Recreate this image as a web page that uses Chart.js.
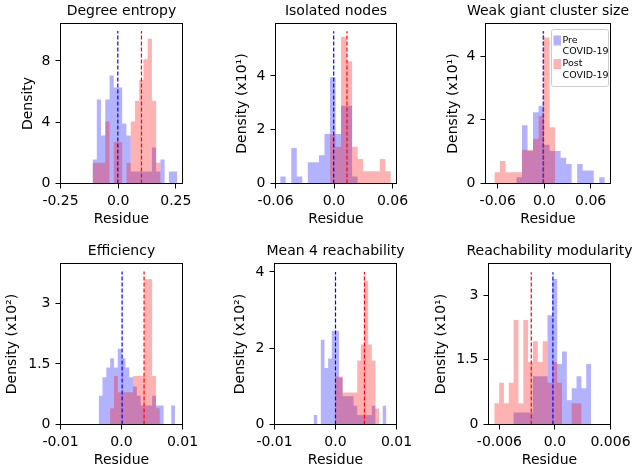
<!DOCTYPE html>
<html>
<head>
<meta charset="utf-8">
<script src="https://cdn.jsdelivr.net/npm/chart.js@4.4.1/dist/chart.umd.min.js"></script>
<style>
  body { margin: 0; background: #fff; }
  #wrap { position: relative; width: 635px; height: 475px; }
  canvas { position: absolute; left: 0; top: 0; }
</style>
</head>
<body>
<div id="wrap">
  <canvas id="c0" width="635" height="475"></canvas>
  <canvas id="c1" width="635" height="475"></canvas>
  <canvas id="c2" width="635" height="475"></canvas>
  <canvas id="c3" width="635" height="475"></canvas>
  <canvas id="c4" width="635" height="475"></canvas>
  <canvas id="c5" width="635" height="475"></canvas>
</div>
<script>
'use strict';
const titles = ['Degree entropy', 'Isolated nodes', 'Weak giant cluster size',
  'Efficiency', 'Mean 4 reachability', 'Reachability modularity'];
const yLabels = ['Density', 'Density (x10¹)', 'Density (x10¹)',
  'Density (x10²)', 'Density (x10²)', 'Density (x10¹)'];
const seriesNames = ['Pre COVID-19', 'Post COVID-19'];

// histogram bins: first edge and bin width of each panel
const binStart = [-0.111, -0.0552, -0.0643, -0.00374, -0.0036, -0.00656];
const binWidth = [0.01838, 0.005675, 0.00713, 0.000626, 0.000597, 0.000523];

// densities per bin (as shown on the axis)
const degPre = [1.57, 5.48, 3.13, 5.48, 7.05, 6.26, 6.26, 3.92, 3.13, 0.78, 0.78, 0.78, 0.78, 0.78, 2.35, 0.78, 1.57, 0, 0.78, 0.78];
const degPost = [1.35, 1.35, 1.35, 4.05, 0, 2.7, 2.7, 0, 1.35, 4.05, 5.4, 6.75, 8.1, 9.45, 5.4, 1.35, 0, 0, 0, 0];
const isoPre = [0.26, 0, 1.32, 0.26, 0, 0.79, 0.79, 1.05, 1.84, 3.95, 1.84, 2.89, 2.89, 0.26, 0, 0, 0, 0, 0, 0];
const isoPost = [0, 0, 0, 0, 0, 0, 0, 0, 0, 1.82, 1.37, 5.46, 4.55, 1.37, 0.91, 0.46, 0.46, 0.46, 0.91, 0.46];
const wgcPre = [0, 0, 0, 0, 0.2, 1.83, 1.02, 2.24, 2.44, 1.22, 1.02, 1.02, 0.81, 0.61, 0, 0.61, 0.41, 0.41, 0, 0.2];
const wgcPost = [0.35, 0.71, 0.35, 0.35, 0.35, 1.06, 1.06, 1.41, 2.12, 4.59, 1.77, 0, 0, 0, 0, 0, 0, 0, 0, 0];
const effPre = [0.71, 1.17, 1.41, 1.64, 1.41, 1.88, 1.64, 1.41, 1.17, 0.94, 0.71, 0.47, 0.47, 0.47, 0.71, 0.47, 0.47, 0, 0, 0.47];
const effPost = [0, 0, 0, 0.4, 1.2, 0.8, 0.8, 0.8, 0.8, 1.2, 1.2, 1.2, 3.6, 3.6, 1.2, 0.4, 0, 0, 0, 0];
const m4rPre = [0.25, 0, 2.22, 1.48, 1.73, 2.46, 2.46, 1.23, 0.74, 0.74, 0.74, 0.49, 0.25, 0.25, 0.25, 0.25, 0.49, 0, 0, 0.49];
const m4rPost = [0, 0, 0, 0, 0, 0, 1.26, 1.26, 0.84, 0.84, 0.84, 0.84, 1.68, 2.1, 3.77, 2.1, 1.68, 0.42, 0, 0];
const rmPre = [0, 0, 0, 0, 0.28, 0.28, 0.28, 0.28, 1.12, 1.12, 1.12, 2.53, 3.37, 1.4, 1.69, 0.56, 0.84, 1.12, 0.84, 1.4];
const rmPost = [0.49, 0.97, 0.49, 0.97, 2.42, 0.49, 2.42, 1.45, 1.93, 1.45, 1.93, 0.97, 1.45, 0.97, 0, 0, 0.49, 0.49, 0, 0];
const preDens = [degPre, isoPre, wgcPre, effPre, m4rPre, rmPre];
const postDens = [degPost, isoPost, wgcPost, effPost, m4rPost, rmPost];

// means (dashed lines) and the height they are drawn to
const preMean = [-0.0015, -0.0003, -0.0012, 0.0001, 0.0, -0.00022];
const postMean = [0.101, 0.0133, -0.0008, 0.0037, 0.00475, -0.00256];
const meanTop = [9.95, 5.66, 4.79, 3.79, 4.0, 3.53];

// axes
const xMin = [-0.25, -0.06, -0.0758, -0.01, -0.01, -0.00718];
const xMax = [0.279, 0.0641, 0.0857, 0.01, 0.01, 0.006];
const yMax = [10.44, 5.95, 5.03, 3.99, 4.22, 3.73];
const xTicks = [[-0.25, 0, 0.25], [-0.06, 0, 0.06], [-0.06, 0, 0.06], [-0.01, 0, 0.01], [-0.01, 0, 0.01], [-0.006, 0, 0.006]];
const xTickLabels = [['-0.25', '0.0', '0.25'], ['-0.06', '0.0', '0.06'], ['-0.06', '0.0', '0.06'],
  ['-0.01', '0.0', '0.01'], ['-0.01', '0.0', '0.01'], ['-0.006', '0.0', '0.006']];
const yTicks = [[0, 4, 8], [0, 2, 4], [0, 2, 4], [0, 1.5, 3], [0, 2, 4], [0, 1.5, 3]];

// plot boxes [left, top, right, bottom] and y-label offset
const boxes = [[60.5, 23.5, 182.5, 183.5], [275.5, 23.5, 396.5, 183.5], [485.5, 23.5, 610.5, 183.5],
  [60.5, 263.5, 182.5, 424.5], [274.5, 263.5, 396.5, 424.5], [488.5, 263.5, 610.5, 424.5]];
const yLabelGap = [32, 33, 32, 48, 34, 47];

const FONT = 'DejaVu Sans';
const BLUE = 'rgba(0,0,255,0.3)';
const RED = 'rgba(255,0,0,0.3)';

function histPoints(start, width, dens) {
  const pts = dens.map((d, i) => ({x: start + i * width, y: d}));
  pts.push({x: start + dens.length * width, y: 0});
  return pts;
}

const frame = {
  id: 'frame',
  afterDatasetsDraw(chart) {
    const {ctx, chartArea: a} = chart;
    ctx.save();
    ctx.strokeStyle = '#000';
    ctx.lineWidth = 1;
    ctx.strokeRect(a.left, a.top, a.right - a.left, a.bottom - a.top);
    ctx.restore();
  }
};

const panelTitle = {
  id: 'panelTitle',
  afterDraw(chart, args, opts) {
    const {ctx, chartArea: a} = chart;
    ctx.save();
    ctx.font = '14px "' + FONT + '"';
    ctx.fillStyle = '#000';
    ctx.textAlign = 'center';
    ctx.textBaseline = 'alphabetic';
    ctx.fillText(opts.text, (a.left + a.right) / 2, a.top - 8.3);
    ctx.restore();
  }
};

const legendBox = {
  id: 'legendBox',
  afterDraw(chart) {
    const ctx = chart.ctx;
    const a = chart.chartArea;
    const x = a.right - 59, y = a.top + 6, w = 57, h = 57;
    ctx.save();
    ctx.fillStyle = 'rgba(255,255,255,0.8)';
    ctx.strokeStyle = '#cccccc';
    ctx.lineWidth = 1;
    ctx.beginPath();
    ctx.roundRect(x, y, w, h, 2);
    ctx.fill();
    ctx.stroke();
    ctx.font = '9.5px "' + FONT + '"';
    ctx.textBaseline = 'middle';
    [BLUE, RED].forEach((c, k) => {
      const yy = y + 11 + k * 23.5;
      ctx.fillStyle = c;
      ctx.fillRect(x + 2, yy - 5, 7.5, 10);
      ctx.fillStyle = '#000';
      const parts = seriesNames[k].split(' ');
      ctx.fillText(parts[0], x + 11, yy);
      ctx.fillText(parts[1], x + 11, yy + 11.5);
    });
    ctx.restore();
  }
};

for (let i = 0; i < 6; i++) {
  const [l, t, r, b] = boxes[i];
  const font = {family: FONT, size: 14};
  const padL = l - yLabelGap[i] - 8.4;
  const padB = 475 - (b + 36) - 8.4;
  const datasets = [
    {data: histPoints(binStart[i], binWidth[i], postDens[i]), label: seriesNames[1], stepped: 'before', fill: 'origin',
      backgroundColor: RED, borderColor: 'rgba(0,0,0,0)', borderWidth: 1, pointRadius: 0, order: 2},
    {data: histPoints(binStart[i], binWidth[i], preDens[i]), label: seriesNames[0], stepped: 'before', fill: 'origin',
      backgroundColor: BLUE, borderColor: 'rgba(0,0,0,0)', borderWidth: 1, pointRadius: 0, order: 3},
    {data: [{x: preMean[i], y: 0}, {x: preMean[i], y: meanTop[i]}], borderColor: 'blue', borderDash: [4, 2],
      borderWidth: 1.2, pointRadius: 0, fill: false, order: 1},
    {data: [{x: postMean[i], y: 0}, {x: postMean[i], y: meanTop[i]}], borderColor: 'red', borderDash: [4, 2],
      borderWidth: 1.2, pointRadius: 0, fill: false, order: 0}
  ];
  new Chart(document.getElementById('c' + i), {
    type: 'line',
    data: {datasets},
    options: {
      responsive: false,
      animation: false,
      devicePixelRatio: 1,
      layout: {padding: {left: padL, right: 635 - r, top: t, bottom: padB}},
      plugins: {
        legend: {display: false},
        tooltip: {enabled: false},
        title: {display: false},
        panelTitle: {text: titles[i]}
      },
      scales: {
        x: {
          type: 'linear', min: xMin[i], max: xMax[i],
          afterBuildTicks: s => { s.ticks = xTicks[i].map(v => ({value: v})); },
          afterFit: s => { s.height = 44.4; },
          ticks: {callback: (v, k) => xTickLabels[i][k], color: '#000', font, padding: 4, maxRotation: 0, autoSkip: false},
          grid: {drawOnChartArea: false, drawTicks: true, tickLength: 5, color: '#000', lineWidth: 1},
          border: {display: false},
          title: {display: true, text: 'Residue', color: '#000', font, padding: {top: 0, bottom: 0}}
        },
        y: {
          type: 'linear', min: 0, max: yMax[i],
          afterBuildTicks: s => { s.ticks = yTicks[i].map(v => ({value: v})); },
          afterFit: s => { s.width = l - padL; },
          ticks: {callback: v => String(v), color: '#000', font, padding: 5, autoSkip: false},
          grid: {drawOnChartArea: false, drawTicks: true, tickLength: 5, color: '#000', lineWidth: 1},
          border: {display: false},
          title: {display: true, text: yLabels[i], color: '#000', font, padding: {top: 0, bottom: 0}}
        }
      }
    },
    plugins: i === 2 ? [frame, panelTitle, legendBox] : [frame, panelTitle]
  });
}
</script>
</body>
</html>
